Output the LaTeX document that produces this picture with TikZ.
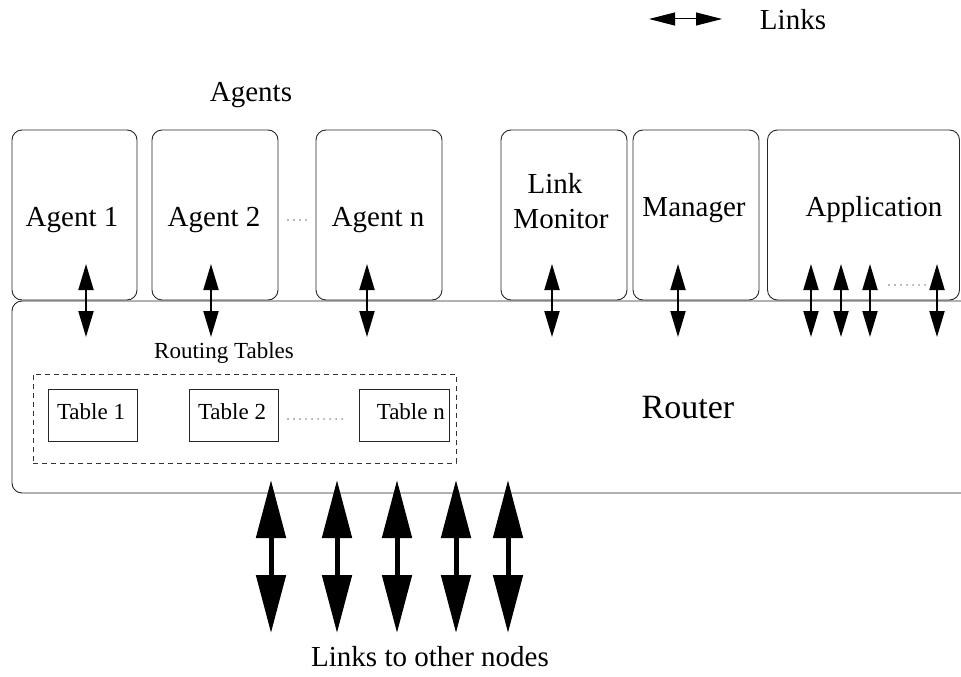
\documentclass[tikz,border=0pt]{standalone}
\usepackage{fontspec}
\setmainfont{Liberation Serif}
\usetikzlibrary{arrows.meta}
\begin{document}
\begin{tikzpicture}[x=1pt,y=-1pt,
 box/.style={draw=black!85, line width=0.9pt, rounded corners=10pt, inner sep=0pt},
 tbox/.style={draw=black!85, line width=1pt, inner sep=0pt},
 txt/.style={font=\fontsize{29}{33}\selectfont, inner sep=0pt},
 small/.style={font=\fontsize{23}{26}\selectfont, inner sep=0pt},
 link/.style={line width=2pt, {Triangle[length=26pt,width=15pt]}-{Triangle[length=26pt,width=15pt]}},
 biglink/.style={line width=5pt, {Triangle[length=58pt,width=29pt]}-{Triangle[length=58pt,width=29pt]}},
 leg/.style={line width=1pt, {Triangle[length=26pt,width=13pt]}-{Triangle[length=26pt,width=13pt]}},
 dots/.style={line width=1.1pt, dash pattern=on 0.01pt off 6pt, line cap=round, draw=black!80}
]
\useasboundingbox (0,0) rectangle (961,677);

% legend
\coordinate (lg1) at (649,19);
\coordinate (lg2) at (722,19);
\draw[leg] (lg1) -- (lg2);
\node[txt] (links) at (793,20) {Links};

\node[txt] (agents) at (251,95) {Agents};

% router body
\draw[draw=black!85, line width=0.9pt, rounded corners=10pt] (961,301) -- (12,301) -- (12,493) -- (961,493);
\node[font=\fontsize{34}{38}\selectfont, inner sep=0pt] (router) at (688,408) {Router};

% upper boxes
\node[box, minimum width=125pt, minimum height=170pt] (a1) at (74.5,215) {};
\node[box, minimum width=126pt, minimum height=170pt] (a2) at (215,215) {};
\node[box, minimum width=126pt, minimum height=170pt] (an) at (379,215) {};
\node[box, minimum width=126pt, minimum height=170pt] (lm) at (564,215) {};
\node[box, minimum width=126pt, minimum height=170pt] (mg) at (696,215) {};
\node[box, minimum width=192pt, minimum height=170pt] (ap) at (863.5,215) {};

\node[txt] (a1t) at (72,220) {Agent 1};
\node[txt] (a2t) at (214,220) {Agent 2};
\node[txt] (ant) at (378,220) {Agent n};
\node[txt] (lmt1) at (555,183) {Link};
\node[txt] (lmt2) at (561,219) {Monitor};
\node[txt] (mgt) at (694,210) {Manager};
\node[txt] (apt) at (874,210) {Application};

\coordinate (d1) at (288,220);
\coordinate (d2) at (308,220);
\draw[dots] (d1) -- (d2);
\coordinate (d3) at (889,285);
\coordinate (d4) at (930,285);
\draw[dots] (d3) -- (d4);

% small links
\foreach \x/\n in {86/p1,211/p2,367/p3,552/p4,678/p5,811/p6,841/p7,870/p8,937/p9}{
  \coordinate (\n u) at (\x,264);
  \coordinate (\n d) at (\x,337);
  \draw[link] (\n u) -- (\n d);
}

% routing tables
\node[small] (rt) at (224,353) {Routing Tables};
\node[draw=black!80, line width=0.9pt, dash pattern=on 5pt off 4pt, minimum width=423pt, minimum height=89pt, inner sep=0pt] (rtbox) at (244.5,418.5) {};
\node[tbox, minimum width=89pt, minimum height=52pt] (t1) at (92.5,415) {};
\node[tbox, minimum width=89pt, minimum height=52pt] (t2) at (233.5,415) {};
\node[tbox, minimum width=90pt, minimum height=52pt] (tn) at (404,415) {};
\node[small] (t1t) at (91,412) {Table 1};
\node[small] (t2t) at (232,412) {Table 2};
\node[small, anchor=east] (tnt) at (445,412) {Table n};
\coordinate (d5) at (288,419);
\coordinate (d6) at (348,419);
\draw[dots] (d5) -- (d6);

% links to other nodes
\foreach \x/\n in {271/q1,337/q2,397/q3,456/q4,508/q5}{
  \coordinate (\n u) at (\x,480);
  \coordinate (\n d) at (\x,633);
  \draw[biglink] (\n u) -- (\n d);
}
\node[txt] (lon) at (430,657) {Links to other nodes};
\end{tikzpicture}
\end{document}
